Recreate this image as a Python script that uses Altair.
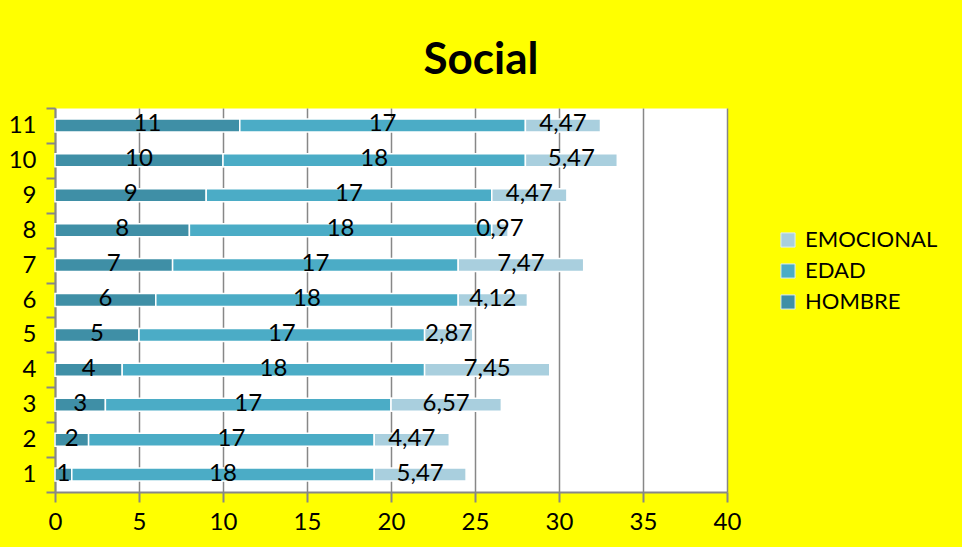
import altair as alt
import pandas as pd

categorias = [str(i) for i in range(1, 12)]
hombre = [1, 2, 3, 4, 5, 6, 7, 8, 9, 10, 11]
edad = [18, 17, 17, 18, 17, 18, 17, 18, 17, 18, 17]
emocional = [5.47, 4.47, 6.57, 7.45, 2.87, 4.12, 7.47, 0.97, 4.47, 5.47, 4.47]
series = ["HOMBRE", "EDAD", "EMOCIONAL"]
legend_order = ["EMOCIONAL", "EDAD", "HOMBRE"]
legend_colors = ["#A9CFDE", "#4BACC6", "#3F8FA6"]
x_ticks = list(range(0, 41, 5))

rows = []
for i, c in enumerate(categorias):
    for k, (name, vals) in enumerate(zip(series, [hombre, edad, emocional])):
        v = vals[i]
        rows.append({"cat": c, "serie": name, "valor": v, "orden": k,
                     "etiqueta": f"{v:g}".replace(".", ",")})
df = pd.DataFrame(rows)

FONT = "Lato"
GRAY = "#878787"

base = alt.Chart(df).transform_stack(
    stack="valor", groupby=["cat"], as_=["x0", "x1"],
    sort=[alt.SortField("orden", order="ascending")]
).transform_calculate(mid="(datum.x0 + datum.x1) / 2")

y_enc = alt.Y("cat:N", sort=categorias[::-1], title=None,
              scale=alt.Scale(paddingInner=0, paddingOuter=0),
              axis=alt.Axis(tickBand="extent", grid=False, labelFontSize=24, labelFont=FONT,
                            labelColor="black", tickColor=GRAY, tickWidth=2, tickSize=9,
                            domainColor=GRAY, domainWidth=2, labelPadding=10))

bars = base.mark_bar(size=13, stroke="white", strokeWidth=1.5).encode(
    x=alt.X("x0:Q", scale=alt.Scale(domain=[0, 40], nice=False), title=None,
            axis=alt.Axis(values=x_ticks, grid=True, gridColor=GRAY, gridWidth=1.5,
                          labelFontSize=24, labelFont=FONT, labelColor="black",
                          tickColor=GRAY, tickWidth=2, tickSize=10, domainColor=GRAY,
                          domainWidth=2, labelPadding=8, labelFlush=False)),
    x2="x1:Q",
    y=y_enc,
    color=alt.Color("serie:N", scale=alt.Scale(domain=legend_order, range=legend_colors),
                    legend=alt.Legend(title=None, orient="none", legendX=722, legendY=121,
                                      symbolType="square", symbolSize=200,
                                      symbolStrokeColor="#DDEEF3", symbolStrokeWidth=1,
                                      labelFontSize=22, labelFont=FONT, labelColor="black",
                                      rowPadding=9, labelOffset=6)),
)

texts = base.mark_text(fontSize=24, font=FONT, color="black", baseline="middle", dy=-1).encode(
    x="mid:Q",
    y=alt.Y("cat:N", sort=categorias[::-1]),
    text="etiqueta:N",
)

chart = alt.layer(bars, texts).properties(
    width=672, height=384,
    title=alt.TitleParams("Social", fontSize=44, font=FONT, fontWeight="bold",
                          anchor="middle", dx=90, offset=13, color="black"),
    autosize=alt.AutoSizeParams(type="none"),
    padding={"left": 55, "top": 108, "right": 235, "bottom": 55},
).configure(background="#FFFF00").configure_view(fill="white", stroke="transparent")

chart.save("out.html", embed_options={"renderer": "svg", "actions": False})
